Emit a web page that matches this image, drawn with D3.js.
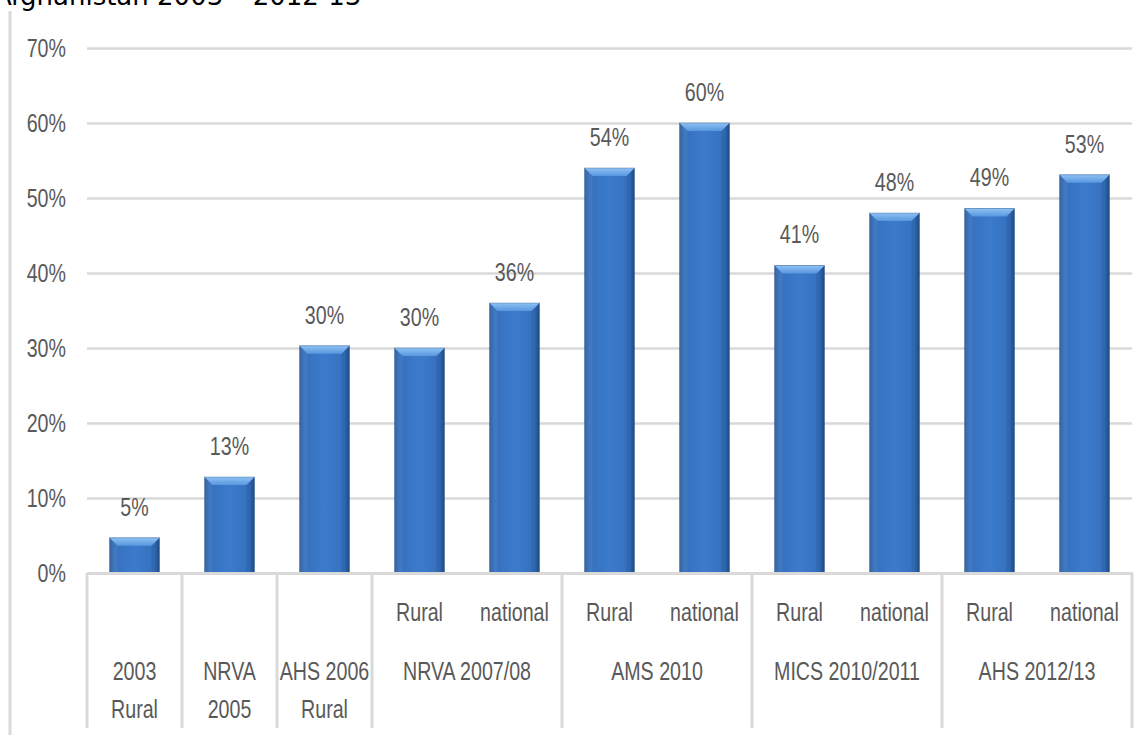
<!DOCTYPE html>
<html>
<head>
<meta charset="utf-8">
<script src="https://cdn.jsdelivr.net/npm/d3@7"></script>
<style>
  html, body { margin: 0; padding: 0; background: #fff; }
  svg { display: block; }
</style>
</head>
<body>
<svg id="chart" width="1148" height="735"></svg>
<script>
// Survey estimates by source and coverage
const categories = [
  "2003 Rural", "NRVA 2005", "AHS 2006 Rural",
  "NRVA 2007/08 Rural", "NRVA 2007/08 national",
  "AMS 2010 Rural", "AMS 2010 national",
  "MICS 2010/2011 Rural", "MICS 2010/2011 national",
  "AHS 2012/13 Rural", "AHS 2012/13 national"
];
const values = [0.047, 0.128, 0.303, 0.300, 0.360, 0.540, 0.600, 0.410, 0.480, 0.486, 0.531];
const areaLabels = ["", "", "", "Rural", "national", "Rural", "national", "Rural", "national", "Rural", "national"];
const groupLabels = [["2003", "Rural"], ["NRVA", "2005"], ["AHS 2006", "Rural"], ["NRVA 2007/08"], ["AMS 2010"], ["MICS 2010/2011"], ["AHS 2012/13"]];
const groupSizes = [1, 1, 1, 2, 2, 2, 2];
const yTicks = [0, 0.1, 0.2, 0.3, 0.4, 0.5, 0.6, 0.7];
const titleText = "Afghanistan 2003 – 2012-13";

(function () {
const W = 1148, H = 735;
const plotLeft = 87, plotRight = 1132, plotTop = 48, base = 573, axisBottom = 728;
const FONT = "'Liberation Sans', Arial, sans-serif";
const FS = 25.5, SX = 0.77, TXT = "#595959", LINE = "#d9d9d9";

const svg = d3.select("#chart");

const x = d3.scaleBand().domain(categories).range([plotLeft, plotRight])
  .paddingInner(0.474).paddingOuter(0.237);
const y = d3.scaleLinear().domain([0, 0.7]).range([base, plotTop]);
const pct = d3.format(".0%");

// gradients for the bevelled bars
const defs = svg.append("defs");
const body = defs.append("linearGradient").attr("id", "barBody")
  .attr("x1", 0).attr("x2", 1).attr("y1", 0).attr("y2", 0);
[[0, "#2a5b9b"], [0.1, "#3570bd"], [0.5, "#3c7bcc"], [0.9, "#3570bd"], [1, "#23508b"]]
  .forEach(([o, c]) => body.append("stop").attr("offset", o).attr("stop-color", c));
const topG = defs.append("linearGradient").attr("id", "barTop")
  .attr("x1", 0).attr("x2", 0).attr("y1", 0).attr("y2", 1);
[[0, "#8fc2f4"], [1, "#5796df"]]
  .forEach(([o, c]) => topG.append("stop").attr("offset", o).attr("stop-color", c));

// chart frame line on the left
svg.append("line").attr("x1", 10).attr("x2", 10).attr("y1", 11).attr("y2", H)
  .attr("stroke", LINE).attr("stroke-width", 3);

// title (partly above the top edge)
svg.append("text").attr("x", -6).attr("y", 5)
  .attr("font-family", "'DejaVu Sans', Verdana, sans-serif").attr("font-size", 26)
  .attr("fill", "#000").text(titleText);

// y axis with gridlines
const yAxis = svg.append("g").attr("transform", `translate(${plotLeft},0)`)
  .call(d3.axisLeft(y).tickValues(yTicks).tickFormat(pct).tickSize(-(plotRight - plotLeft)).tickSizeOuter(0));
yAxis.select(".domain").remove();
yAxis.selectAll(".tick line").attr("stroke", LINE).attr("stroke-width", 2.5);
yAxis.selectAll(".tick text")
  .attr("x", 0).attr("dy", "0.35em")
  .attr("transform", `translate(${66 - plotLeft},0) scale(${SX},1)`)
  .attr("text-anchor", "end")
  .attr("font-family", FONT).attr("font-size", FS).attr("fill", TXT);

// bars
const b = 8;
const bars = svg.append("g").selectAll("g").data(values).join("g");
bars.each(function (v, i) {
  const g = d3.select(this);
  const x0 = x(categories[i]), w = x.bandwidth(), y0 = y(v), h = y(0) - y(v);
  g.append("rect").attr("x", x0).attr("y", y0).attr("width", w).attr("height", h)
    .attr("fill", "url(#barBody)");
  g.append("polygon")
    .attr("points", [[x0, y0], [x0 + b, y0 + b], [x0 + b, y0 + h], [x0, y0 + h]].join(" "))
    .attr("fill", "#ffffff").attr("opacity", 0.06);
  g.append("polygon")
    .attr("points", [[x0 + w, y0], [x0 + w - b, y0 + b], [x0 + w - b, y0 + h], [x0 + w, y0 + h]].join(" "))
    .attr("fill", "#0c2a55").attr("opacity", 0.12);
  g.append("polygon")
    .attr("points", [[x0, y0], [x0 + w, y0], [x0 + w - b, y0 + b], [x0 + b, y0 + b]].join(" "))
    .attr("fill", "url(#barTop)");
  g.append("rect").attr("x", x0).attr("y", y0).attr("width", w).attr("height", h)
    .attr("fill", "none").attr("stroke", "#1f4a80").attr("stroke-opacity", 0.35).attr("stroke-width", 1);
});

// value labels
svg.append("g").selectAll("text").data(values).join("text")
  .attr("transform", (v, i) => `translate(${x(categories[i]) + x.bandwidth() / 2},${y(v) - 31}) scale(${SX},1)`)
  .attr("dy", "0.35em").attr("text-anchor", "middle")
  .attr("font-family", FONT).attr("font-size", FS).attr("fill", TXT)
  .text(v => pct(v));

// x axis: inner level (coverage)
const xAxis = svg.append("g").attr("transform", `translate(0,${base})`)
  .call(d3.axisBottom(x).tickSize(0).tickSizeOuter(0).tickFormat((d, i) => areaLabels[i]));
xAxis.select(".domain").attr("stroke", LINE).attr("stroke-width", 3);
xAxis.selectAll(".tick text")
  .attr("y", 0).attr("dy", "0.35em")
  .attr("transform", `translate(0,${612 - base}) scale(${SX},1)`)
  .attr("font-family", FONT).attr("font-size", FS).attr("fill", TXT);

// x axis: outer level (survey) with dividers
const halfGap = (x.step() - x.bandwidth()) / 2;
let start = 0;
const spans = groupSizes.map(n => {
  const s = { from: start, to: start + n - 1 };
  start += n;
  return s;
});
const gx = svg.append("g");
const edges = spans.map(s => x(categories[s.from]) - halfGap);
edges.push(x(categories[categories.length - 1]) + x.bandwidth() + halfGap);
gx.selectAll("line").data(edges).join("line")
  .attr("x1", d => d).attr("x2", d => d).attr("y1", base).attr("y2", axisBottom)
  .attr("stroke", LINE).attr("stroke-width", 3);
spans.forEach((s, k) => {
  const cx = (x(categories[s.from]) + x(categories[s.to]) + x.bandwidth()) / 2;
  groupLabels[k].forEach((line, j) => {
    gx.append("text")
      .attr("transform", `translate(${cx},${671 + j * 38}) scale(${SX},1)`)
      .attr("dy", "0.35em").attr("text-anchor", "middle")
      .attr("font-family", FONT).attr("font-size", FS).attr("fill", TXT)
      .text(line);
  });
});
})();
</script>
</body>
</html>
